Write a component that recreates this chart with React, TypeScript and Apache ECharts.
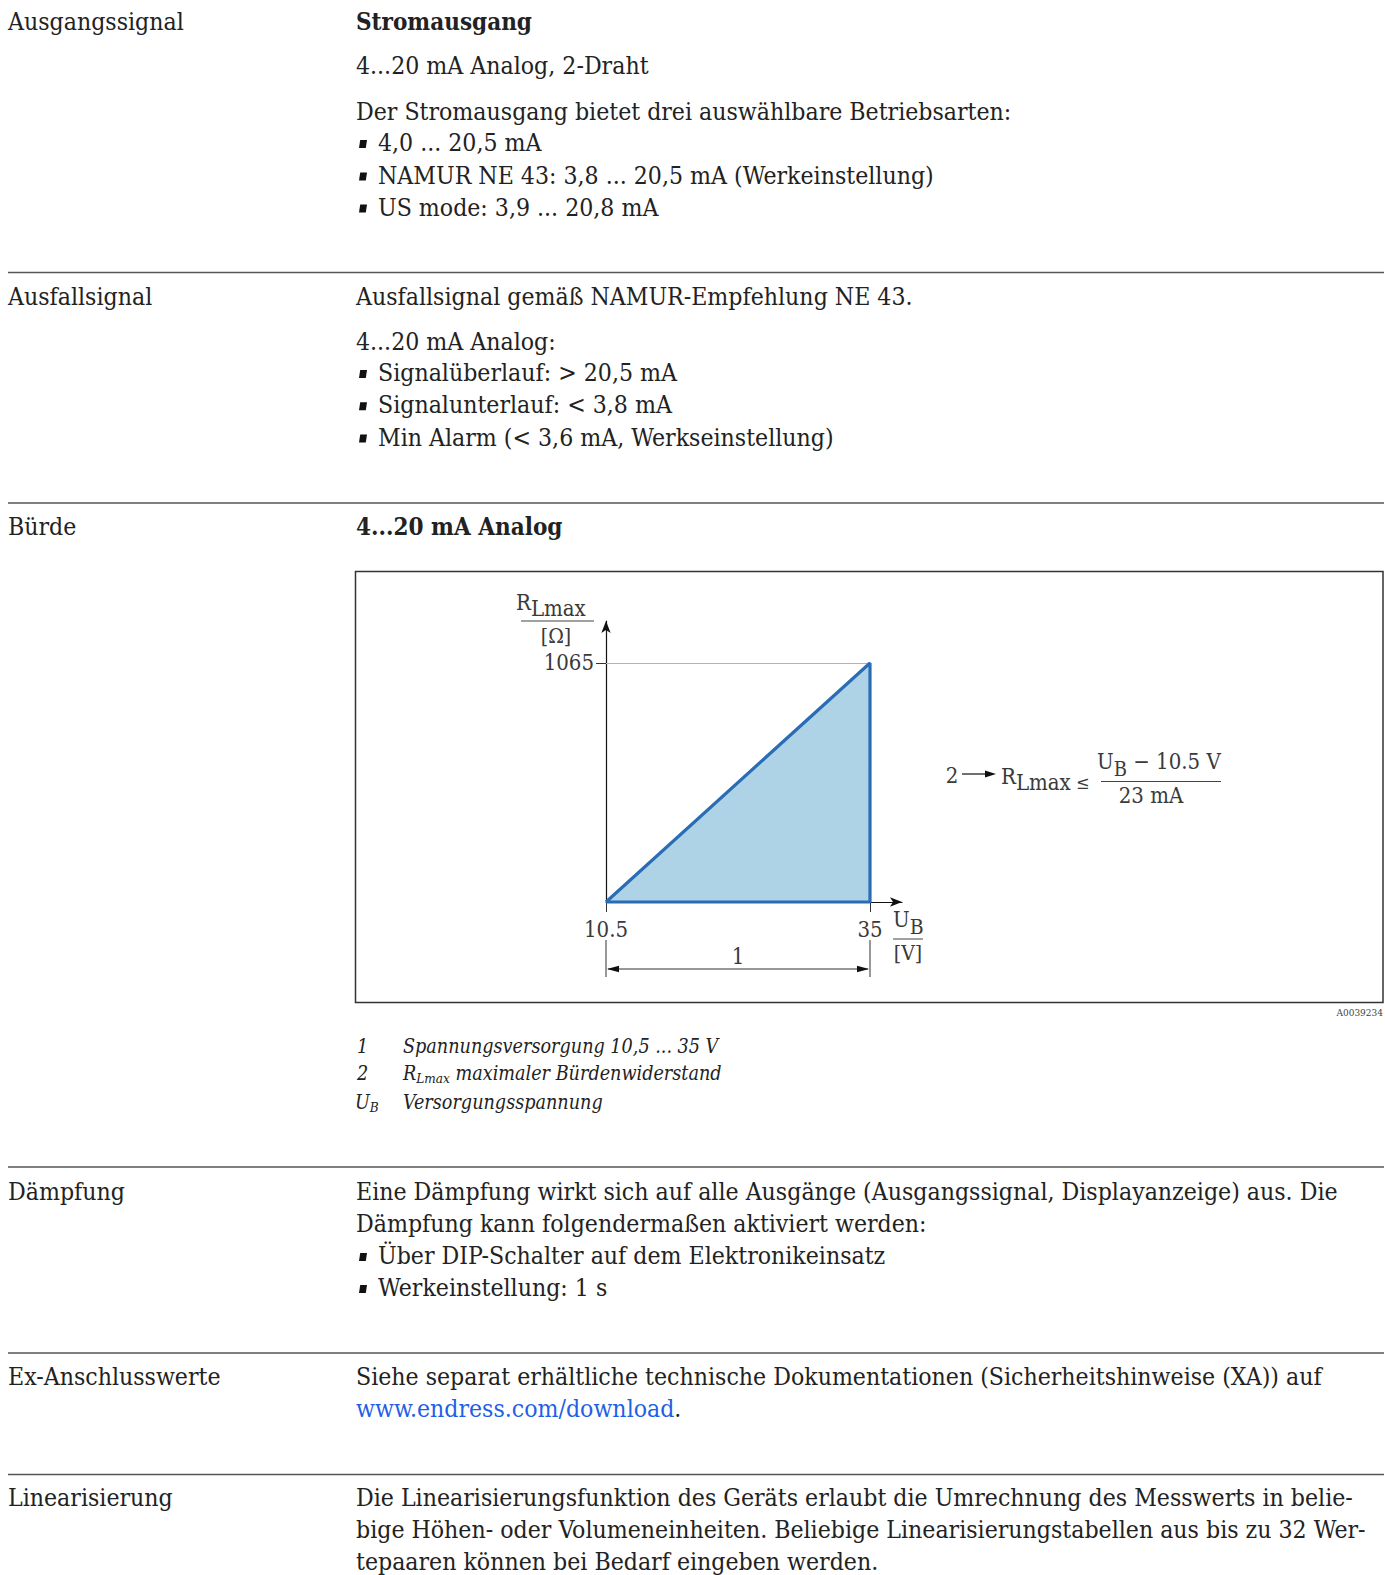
import React, { useEffect, useRef } from "react";
import * as echarts from "echarts";

// ---------- chart data ----------
const supplyVoltage = [10.5, 35, 35, 10.5]; // U_B [V]
const loadResistance = [0, 1065, 0, 0]; // R_Lmax [Ω]
const xTickValues = [10.5, 35];
const yTickValues = [1065];
const xMin = 10.5;
const xMax = 37.97;
const yMin = 0;
const yMax = 1252;
const refLineStart = [10.5, 1065];
const refLineEnd = [35, 1065];

// ---------- document text ----------
const sectionLabels = ["Ausgangssignal", "Ausfallsignal", "Bürde", "Dämpfung", "Ex-Anschlusswerte", "Linearisierung"];
const block1 = [
  "Stromausgang",
  "4...20 mA Analog, 2-Draht",
  "Der Stromausgang bietet drei auswählbare Betriebsarten:",
  "4,0 ... 20,5 mA",
  "NAMUR NE 43: 3,8 ... 20,5 mA (Werkeinstellung)",
  "US mode: 3,9 ... 20,8 mA",
];
const block2 = [
  "Ausfallsignal gemäß NAMUR-Empfehlung NE 43.",
  "4...20 mA Analog:",
  "Signalüberlauf: > 20,5 mA",
  "Signalunterlauf: < 3,8 mA",
  "Min Alarm (< 3,6 mA, Werkseinstellung)",
];
const block3Title = "4...20 mA Analog";
const legendItems = ["Spannungsversorgung 10,5 ... 35 V", "maximaler Bürdenwiderstand", "Versorgungsspannung"];
const block4 = [
  "Eine Dämpfung wirkt sich auf alle Ausgänge (Ausgangssignal, Displayanzeige) aus. Die",
  "Dämpfung kann folgendermaßen aktiviert werden:",
  "Über DIP-Schalter auf dem Elektronikeinsatz",
  "Werkeinstellung: 1 s",
];
const block5 = [
  "Siehe separat erhältliche technische Dokumentationen (Sicherheitshinweise (XA)) auf",
  "www.endress.com/download",
];
const block6 = [
  "Die Linearisierungsfunktion des Geräts erlaubt die Umrechnung des Messwerts in belie-",
  "bige Höhen- oder Volumeneinheiten. Beliebige Linearisierungstabellen aus bis zu 32 Wer-",
  "tepaaren können bei Bedarf eingeben werden.",
];
const figureId = "A0039234";

const FONT = "'DejaVu Serif Condensed', 'DejaVu Serif', serif";
const TEXT = "#222";
const CHART_TEXT = "#3a3a3a";
const MAIN = 24.6;
const BOLD = 24;

let ctx: CanvasRenderingContext2D | null = null;
function measure(text: string, size: number, italic = false, bold = false) {
  if (!ctx) ctx = document.createElement("canvas").getContext("2d");
  if (!ctx) return text.length * size * 0.5;
  ctx.font = `${italic ? "italic " : ""}${bold ? "bold " : ""}${size}px ${FONT}`;
  return ctx.measureText(text).width;
}

type Part = { text: string; size?: number; dy?: number; italic?: boolean; bold?: boolean; color?: string };

function txt(x: number, y: number, text: string, o: any = {}) {
  return {
    type: "text",
    x,
    y,
    silent: true,
    style: {
      text,
      fontSize: o.size ?? MAIN,
      fontFamily: FONT,
      fontStyle: o.italic ? "italic" : "normal",
      fontWeight: o.bold ? "bold" : "normal",
      fill: o.color ?? TEXT,
      textAlign: o.align ?? "left",
      textVerticalAlign: "middle",
    },
  };
}

function run(x: number, y: number, parts: Part[], base = MAIN) {
  const out: any[] = [];
  let cx = x;
  for (const p of parts) {
    const size = p.size ?? base;
    out.push(txt(cx, y + (p.dy ?? 0), p.text, { size, italic: p.italic, bold: p.bold, color: p.color }));
    cx += measure(p.text, size, p.italic, p.bold);
  }
  return out;
}

function hline(x1: number, x2: number, y: number, color = "#555", w = 1.5) {
  return { type: "line", silent: true, shape: { x1, y1: y, x2, y2: y }, style: { stroke: color, lineWidth: w } };
}
function vline(x: number, y1: number, y2: number, color = "#333", w = 1) {
  return { type: "line", silent: true, shape: { x1: x, y1, x2: x, y2 }, style: { stroke: color, lineWidth: w } };
}
function bullet(x: number, y: number) {
  return {
    type: "polygon",
    silent: true,
    shape: { points: [[x, y + 4], [x + 1.2, y - 4], [x + 8, y - 4], [x + 6.8, y + 4]] },
    style: { fill: "#111" },
  };
}

const LX = 8;
const RX = 356;
const BX = 378;

function buildPage(x0: number, x1: number) {
  const g: any[] = [];
  // section rules
  [272.5, 503, 1167, 1353, 1474.5].forEach((y) => g.push(hline(8, 1384, y)));
  // left labels
  const labelY = [21, 296, 526, 1191, 1376, 1497.5];
  sectionLabels.forEach((t, i) => g.push(txt(LX, labelY[i], t)));

  // block 1
  g.push(txt(RX, 21, block1[0], { bold: true, size: BOLD }));
  g.push(txt(RX, 65, block1[1]));
  g.push(txt(RX, 111.5, block1[2]));
  [142.6, 175, 207].forEach((y, i) => {
    g.push(bullet(359, y + 1.5));
    g.push(txt(BX, y, block1[3 + i]));
  });
  // block 2
  g.push(txt(RX, 296, block2[0]));
  g.push(txt(RX, 341.5, block2[1]));
  [372.6, 404.8, 437].forEach((y, i) => {
    g.push(bullet(359, y + 1.5));
    g.push(txt(BX, y, block2[2 + i]));
  });
  // block 3
  g.push(txt(RX, 526, block3Title, { bold: true, size: BOLD }));
  // figure box
  g.push({
    type: "rect",
    silent: true,
    shape: { x: 355.5, y: 571.5, width: 1027.5, height: 431 },
    style: { fill: "none", stroke: "#333", lineWidth: 1.5 },
  });
  g.push(txt(1383, 1012, figureId, { size: 10, color: "#444", align: "right" }));

  // y axis title R_Lmax / [Ω]
  g.push(...run(516, 602, [{ text: "R", size: 22, color: CHART_TEXT }, { text: "Lmax", size: 22, dy: 6, color: CHART_TEXT }], 22));
  g.push(hline(521, 594, 621, "#444", 1));
  g.push(txt(556, 636, "[Ω]", { size: 21, color: CHART_TEXT, align: "center" }));
  // x axis title U_B / [V]
  g.push(...run(x1 + 23, 919, [{ text: "U", size: 22, color: CHART_TEXT }, { text: "B", size: 21, dy: 8, color: CHART_TEXT }], 22));
  g.push(hline(x1 + 23, x1 + 53, 939, "#444", 1));
  g.push(txt(x1 + 38, 953, "[V]", { size: 21, color: CHART_TEXT, align: "center" }));

  // dimension "1"
  g.push(vline(x0, 940, 977, "#333", 1));
  g.push(vline(x1, 940, 977, "#333", 1));
  g.push(hline(x0 + 2, x1 - 2, 969, "#333", 1.2));
  g.push({ type: "polygon", silent: true, shape: { points: [[x0 + 1, 969], [x0 + 13, 965.8], [x0 + 13, 972.2]] }, style: { fill: "#111" } });
  g.push({ type: "polygon", silent: true, shape: { points: [[x1 - 1, 969], [x1 - 13, 965.8], [x1 - 13, 972.2]] }, style: { fill: "#111" } });
  g.push(txt((x0 + x1) / 2, 956, "1", { size: 22, color: CHART_TEXT, align: "center" }));

  // formula
  g.push(txt(952, 775, "2", { size: 22, color: CHART_TEXT, align: "center" }));
  g.push(hline(962, 987, 774, "#222", 1.3));
  g.push({ type: "polygon", silent: true, shape: { points: [[996, 774], [985, 770.5], [985, 777.5]] }, style: { fill: "#111" } });
  g.push(
    ...run(
      1001,
      776,
      [
        { text: "R", size: 22, color: CHART_TEXT },
        { text: "Lmax", size: 22, dy: 6, color: CHART_TEXT },
        { text: " ≤", size: 18, dy: 6, color: CHART_TEXT },
      ],
      22
    )
  );
  g.push(hline(1101, 1221, 781.5, "#444", 1));
  g.push(
    ...run(
      1097,
      761,
      [
        { text: "U", size: 22, color: CHART_TEXT },
        { text: "B", size: 20, dy: 8, color: CHART_TEXT },
        { text: " − 10.5 V", size: 22, color: CHART_TEXT },
      ],
      22
    )
  );
  g.push(txt(1151, 795, "23 mA", { size: 22, color: CHART_TEXT, align: "center" }));

  // legend
  const LS = 19.6;
  g.push(txt(357, 1046, "1", { size: LS, italic: true }));
  g.push(txt(403, 1046, legendItems[0], { size: LS, italic: true }));
  g.push(txt(357, 1073, "2", { size: LS, italic: true }));
  g.push(...run(403, 1073, [{ text: "R", italic: true }, { text: "Lmax", size: 13.5, dy: 5, italic: true }, { text: " " + legendItems[1], italic: true }], LS));
  g.push(...run(355, 1102, [{ text: "U", italic: true }, { text: "B", size: 13.5, dy: 5, italic: true }], LS));
  g.push(txt(403, 1102, legendItems[2], { size: LS, italic: true }));

  // block 4
  g.push(txt(RX, 1191, block4[0]));
  g.push(txt(RX, 1223, block4[1]));
  [1255.5, 1287.6].forEach((y, i) => {
    g.push(bullet(359, y + 1.5));
    g.push(txt(BX, y, block4[2 + i]));
  });
  // block 5
  g.push(txt(RX, 1376, block5[0]));
  g.push(...run(RX, 1408, [{ text: block5[1], color: "#1f5fe6" }, { text: "." }]));
  // block 6
  [1497.5, 1529.7, 1561].forEach((y, i) => g.push(txt(RX, y, block6[i])));
  return g;
}

export default function App() {
  const ref = useRef<HTMLDivElement>(null);
  useEffect(() => {
    if (!ref.current) return;
    const chart = echarts.init(ref.current, undefined, { renderer: "svg" });
    const data = supplyVoltage.map((v, i) => [v, loadResistance[i]]);
    chart.setOption({
      animation: false,
      backgroundColor: "#fff",
      grid: { left: 606, top: 621, width: 296, height: 281, containLabel: false },
      xAxis: {
        type: "value",
        min: xMin,
        max: xMax,
        axisLine: {
          show: true,
          onZero: false,
          symbol: ["none", "arrow"],
          symbolSize: [7, 12],
          lineStyle: { color: "#111", width: 1.2 },
        },
        axisTick: { show: true, customValues: xTickValues, length: 10, lineStyle: { color: "#333", width: 1 } },
        axisLabel: {
          customValues: xTickValues,
          formatter: (v: number) => String(v),
          margin: 16,
          fontSize: 22,
          fontFamily: FONT,
          color: CHART_TEXT,
        },
        splitLine: { show: false },
      },
      yAxis: {
        type: "value",
        min: yMin,
        max: yMax,
        axisLine: {
          show: true,
          onZero: false,
          symbol: ["none", "arrow"],
          symbolSize: [7, 12],
          lineStyle: { color: "#111", width: 1.2 },
        },
        axisTick: { show: true, customValues: yTickValues, length: 10, lineStyle: { color: "#333", width: 1 } },
        axisLabel: {
          customValues: yTickValues,
          formatter: (v: number) => String(v),
          margin: 12,
          fontSize: 22,
          fontFamily: FONT,
          color: CHART_TEXT,
        },
        splitLine: { show: false },
      },
      series: [
        {
          type: "line",
          data,
          showSymbol: false,
          clip: false,
          lineStyle: { color: "#2a6db5", width: 3.2 },
          areaStyle: { color: "#aed3e6", opacity: 1 },
          z: 3,
          markLine: {
            silent: true,
            symbol: "none",
            label: { show: false },
            lineStyle: { color: "#b5b5b5", width: 1, type: "solid" },
            data: [[{ coord: refLineStart }, { coord: refLineEnd }]],
            z: 1,
          },
        },
      ],
    });
    const p0 = chart.convertToPixel({ gridIndex: 0 }, [xTickValues[0], 0]) as number[];
    const p1 = chart.convertToPixel({ gridIndex: 0 }, [xTickValues[1], 0]) as number[];
    chart.setOption({ graphic: { elements: buildPage(p0[0], p1[0]) } });
    return () => chart.dispose();
  }, []);
  return <div ref={ref} style={{ position: "absolute", left: 0, top: 0, width: 1385, height: 1575 }} />;
}
